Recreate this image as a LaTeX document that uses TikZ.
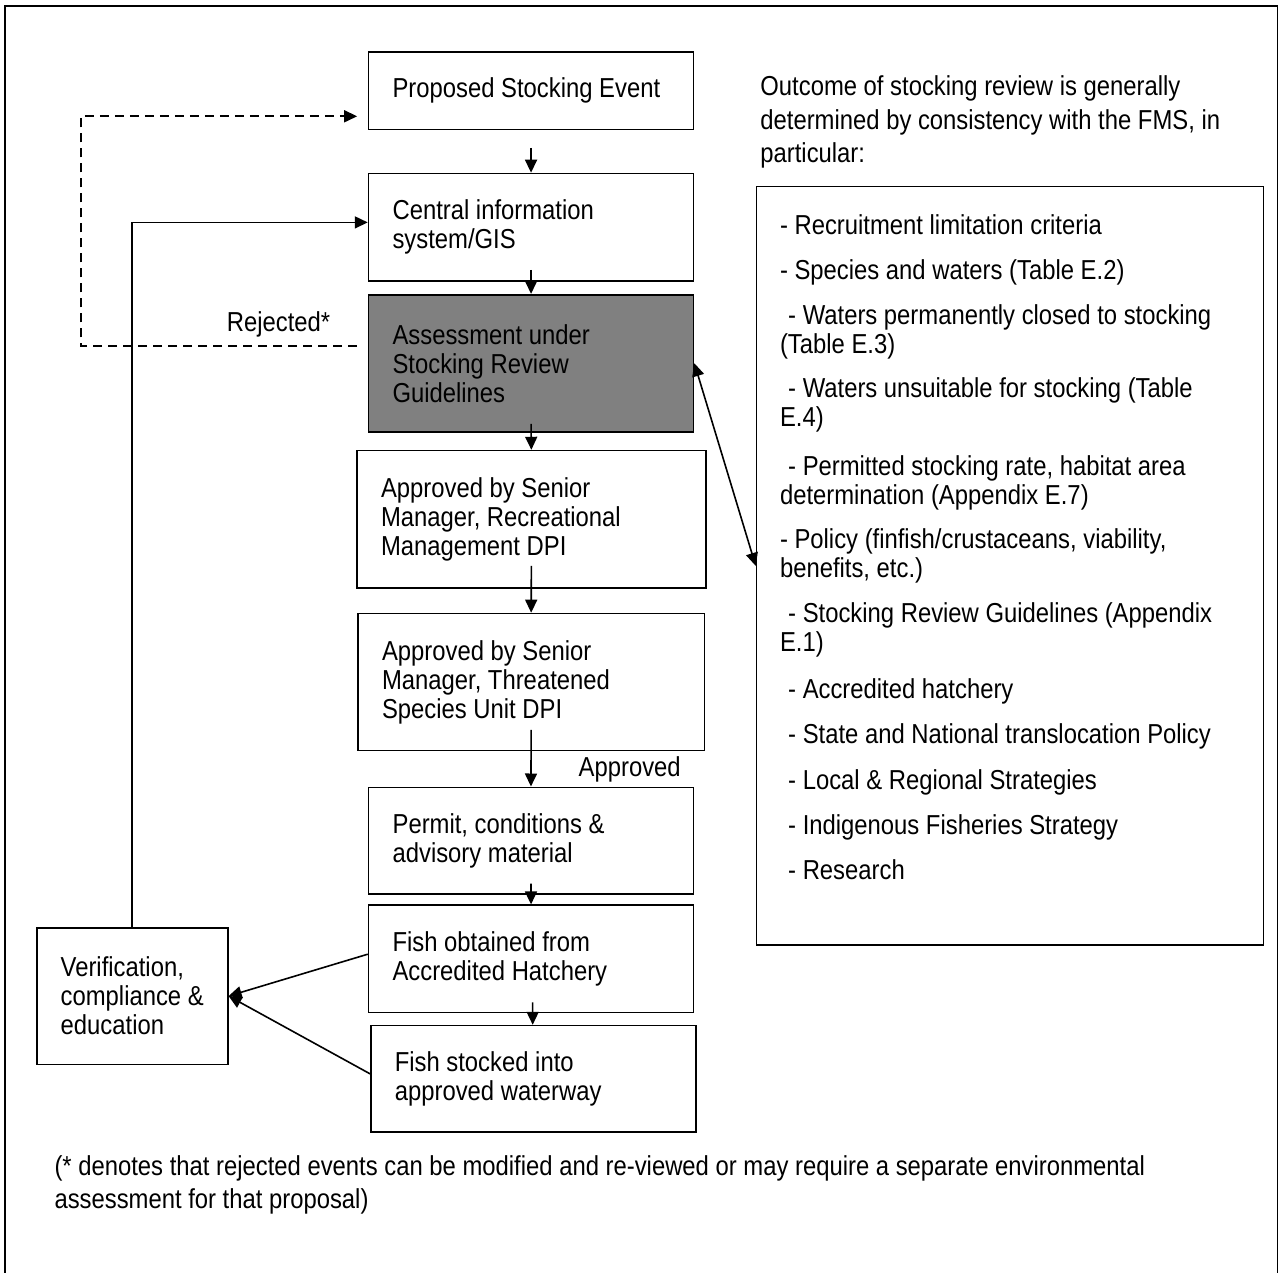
\documentclass[tikz,border=0pt]{standalone}
\usepackage{fontspec}
\setmainfont{Liberation Sans}[FakeStretch=0.87]
\usetikzlibrary{arrows.meta}
\definecolor{boxgray}{HTML}{808080}
\newcommand{\itm}[1]{\parbox[t]{470pt}{\raggedright #1}}
\begin{document}
\begin{tikzpicture}[x=1pt,y=-1pt,
  every node/.style={font=\fontsize{27.4pt}{29pt}\selectfont},
  flowbox/.style={draw, line width=1.6pt, inner xsep=24pt, inner ysep=0pt, align=flush left},
  graybox/.style={flowbox, fill=boxgray},
  arr/.style={line width=1.6pt, -{Triangle[length=13pt,width=12pt]}},
  darr/.style={line width=1.6pt, {Triangle[length=13pt,width=12pt]}-{Triangle[length=13pt,width=12pt]}},
  dline/.style={line width=1.6pt, dash pattern=on 9pt off 6pt, -{Triangle[length=13pt,width=12pt]}},
  txt/.style={inner sep=0pt},
  outerframe/.style={line width=1.4pt}]
\useasboundingbox (0,0) rectangle (1279,1273);
\fill[white] (0,0) rectangle (1279,1273);
\draw[outerframe] (5,1280) -- (5,6) -- (1277.5,6) -- (1277.5,1280);

% flow boxes
\node[flowbox, minimum width=325pt, minimum height=77.6pt, text width=277pt] (prop) at (531.05,90.6) {Proposed Stocking Event};
\node[flowbox, minimum width=325pt, minimum height=107.3pt, text width=277pt] (cis) at (531.05,227.15) {Central information\\system/GIS};
\node[graybox, minimum width=325pt, minimum height=137.1pt, text width=277pt] (asr) at (531.05,363.25) {Assessment under\\Stocking Review\\Guidelines};
\node[flowbox, minimum width=348.7pt, minimum height=137.2pt, text width=300.7pt] (apr1) at (531.35,519.2) {Approved by Senior\\Manager, Recreational\\Management DPI};
\node[flowbox, minimum width=346.3pt, minimum height=137pt, text width=298.3pt] (apr2) at (531.15,682) {Approved by Senior\\Manager, Threatened\\Species Unit DPI};
\node[flowbox, minimum width=324.7pt, minimum height=106.9pt, text width=276.7pt] (perm) at (530.95,840.75) {Permit, conditions \&\\advisory material};
\node[flowbox, minimum width=325pt, minimum height=107.4pt, text width=277pt] (fobt) at (531.05,958.9) {Fish obtained from\\Accredited Hatchery};
\node[flowbox, minimum width=325.2pt, minimum height=106.2pt, text width=277.2pt] (fstk) at (533.4,1078.7) {Fish stocked into\\approved waterway};
\node[flowbox, minimum width=191.1pt, minimum height=136.7pt, text width=143.1pt] (ver) at (132.25,996.05) {Verification,\\\mbox{compliance \&}\\education};
\node[draw, line width=1.6pt, minimum width=507pt, minimum height=758.7pt, inner sep=0pt] (rbox) at (1010,565.85) {};

% vertical flow arrows
\draw[arr] ([yshift=-17.6pt]prop.south) -- (cis.north);
\draw[arr] ([yshift=11.8pt]cis.south) -- (asr.north);
\draw[arr] ([yshift=8.8pt]asr.south) -- (apr1.north);
\draw[arr] ([yshift=22.8pt]apr1.south) -- (apr2.north);
\draw[arr] ([yshift=21.5pt]apr2.south) -- (perm.north);
\draw[arr] ([yshift=11.4pt]perm.south) -- (fobt.north);
\draw[arr] ([xshift=1.6pt,yshift=11pt]fobt.south) -- ([xshift=-0.7pt]fstk.north);

% rejected loop
\coordinate (dA) at (80.8,346);
\coordinate (dB) at (80.8,116.3);
\draw[dline] ([xshift=-10.6pt,yshift=17.25pt]asr.west) -- (dA) -- (dB) -- ([xshift=-10.6pt,yshift=-25.7pt]prop.west);
\node[txt, anchor=base] (rej) at (278.6,331.4) {Rejected*};

% feedback from verification
\draw[arr] (ver.north) |- ([yshift=4.75pt]cis.west);
\draw[arr] ([yshift=4.7pt]fobt.west) -- (ver.east);
\draw[arr] ([yshift=4.9pt]fstk.west) -- (ver.east);

% link to criteria box
\draw[darr] (asr.east) -- (rbox.west);

\node[txt, anchor=base] (appr) at (629.7,776.7) {Approved};

% header text
\node[txt, anchor=base west, font=\fontsize{27.4pt}{33.5pt}\selectfont] (hdr) at (760.2,95.9) {\parbox[t]{500pt}{\raggedright Outcome of stocking review is generally\\determined by consistency with the FMS, in\\particular:}};

% criteria list
\node[txt, anchor=base west] (i1) at (779.8,234.7) {\itm{- Recruitment limitation criteria}};
\node[txt, anchor=base west] (i2) at (779.8,279.4) {\itm{- Species and waters (Table E.2)}};
\node[txt, anchor=base west] (i3) at (779.8,324.3) {\itm{\hspace*{8.2pt}- Waters permanently closed to stocking\\(Table E.3)}};
\node[txt, anchor=base west] (i4) at (779.8,397.8) {\itm{\hspace*{8.2pt}- Waters unsuitable for stocking (Table\\E.4)}};
\node[txt, anchor=base west] (i5) at (779.8,475.3) {\itm{\hspace*{8.2pt}- Permitted stocking rate, habitat area\\determination (Appendix E.7)}};
\node[txt, anchor=base west] (i6) at (779.8,548.8) {\itm{- Policy (finfish/crustaceans, viability,\\benefits, etc.)}};
\node[txt, anchor=base west] (i7) at (779.8,622.2) {\itm{\hspace*{8.2pt}- Stocking Review Guidelines (Appendix\\E.1)}};
\node[txt, anchor=base west] (i8) at (779.8,698) {\itm{\hspace*{8.2pt}- Accredited hatchery}};
\node[txt, anchor=base west] (i9) at (779.8,743) {\itm{\hspace*{8.2pt}- State and National translocation Policy}};
\node[txt, anchor=base west] (i10) at (779.8,789) {\itm{\hspace*{8.2pt}- Local \& Regional Strategies}};
\node[txt, anchor=base west] (i11) at (779.8,834) {\itm{\hspace*{8.2pt}- Indigenous Fisheries Strategy}};
\node[txt, anchor=base west] (i12) at (779.8,879.7) {\itm{\hspace*{8.2pt}- Research}};

% footnote
\node[txt, anchor=base west, font=\fontsize{27.4pt}{32.6pt}\selectfont] (foot) at (54.3,1175.9) {\parbox[t]{1200pt}{\raggedright (* denotes that rejected events can be modified and re-viewed or may require a separate environmental\\assessment for that proposal)}};
\end{tikzpicture}
\end{document}
